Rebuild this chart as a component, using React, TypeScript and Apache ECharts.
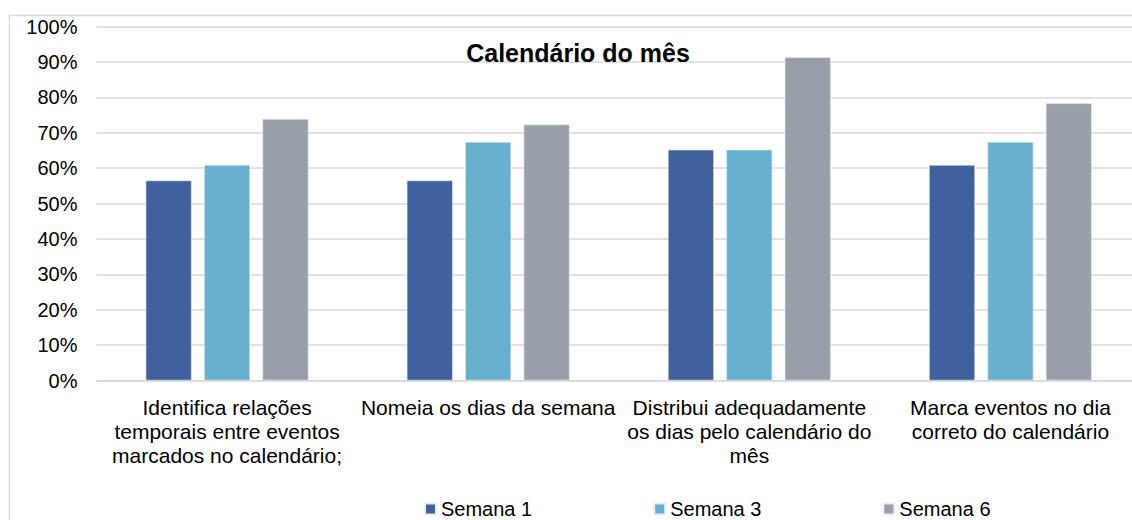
import React, { useEffect, useRef } from "react";
import * as echarts from "echarts";

const titleText = "Calendário do mês";
const categories = [
  "Identifica relações\ntemporais entre eventos\nmarcados no calendário;",
  "Nomeia os dias da semana",
  "Distribui adequadamente\nos dias pelo calendário do\nmês",
  "Marca eventos no dia\ncorreto do calendário",
];
const seriesNames = ["Semana 1", "Semana 3", "Semana 6"];
const semana1 = [56.5, 56.5, 65.2, 60.9];
const semana3 = [60.9, 67.4, 65.2, 67.4];
const semana6 = [73.9, 72.3, 91.3, 78.3];
const colors = ["#41619e", "#67b0ce", "#989fa9"];

const FONT = "'Liberation Sans', Arial, sans-serif";

export default function App() {
  const ref = useRef<HTMLDivElement>(null);
  useEffect(() => {
    if (!ref.current) return;
    const chart = echarts.init(ref.current, undefined, { renderer: "svg" });
    const values = [semana1, semana3, semana6];
    chart.setOption({
      animation: false,
      backgroundColor: "#ffffff",
      textStyle: { fontFamily: FONT },
      title: {
        text: titleText,
        left: 573,
        top: 35,
        textAlign: "center",
        textStyle: { fontFamily: FONT, fontSize: 25, fontWeight: "bold", color: "#000" },
      },
      graphic: [
        {
          type: "rect",
          shape: { x: 9.5, y: 15.5, width: 1140, height: 520 },
          style: { fill: "none", stroke: "#d9d9d9", lineWidth: 1.5 },
          silent: true,
          z: -1,
        },
      ],
      legend: {
        data: seriesNames,
        left: 419,
        top: 494,
        itemWidth: 11,
        itemHeight: 11,
        itemGap: 121,
        icon: "rect",
        textStyle: { fontFamily: FONT, fontSize: 20, color: "#000" },
      },
      grid: {
        left: 96.5,
        top: 26.5,
        width: 1044.5,
        height: 354,
        outerBoundsMode: "none",
        containLabel: false,
      },
      xAxis: {
        type: "category",
        data: categories,
        axisLine: { lineStyle: { color: "#d9d9d9", width: 1.5 } },
        axisTick: { show: false },
        axisLabel: {
          interval: 0,
          margin: 15,
          fontFamily: FONT,
          fontSize: 21,
          lineHeight: 24,
          color: "#000",
          align: "center",
        },
      },
      yAxis: {
        type: "value",
        min: 0,
        max: 100,
        interval: 10,
        axisLine: { show: false },
        axisTick: { show: false },
        splitLine: { lineStyle: { color: "#d9d9d9", width: 1.5 } },
        axisLabel: {
          formatter: "{value}%",
          margin: 19,
          fontFamily: FONT,
          fontSize: 20,
          color: "#000",
        },
      },
      series: seriesNames.map((name, i) => ({
        name,
        type: "bar",
        data: values[i],
        barWidth: 46,
        barGap: "27%",
        itemStyle: { color: colors[i], borderColor: "#e8eef5", borderWidth: 0.6 },
      })),
    });
    return () => chart.dispose();
  }, []);
  return (
    <div
      ref={ref}
      style={{ position: "absolute", left: 0, top: 0, width: 1132, height: 520 }}
    />
  );
}
